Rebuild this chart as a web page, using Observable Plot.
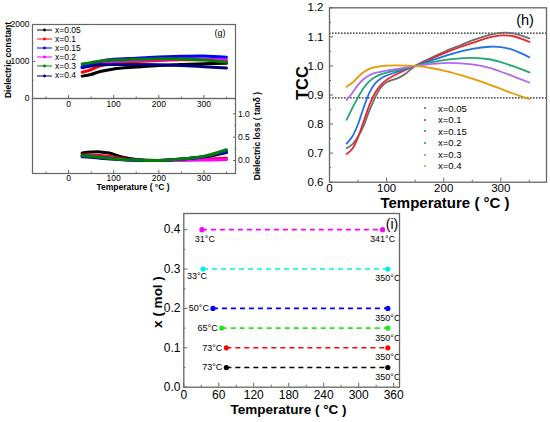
<!DOCTYPE html>
<html><head><meta charset="utf-8">
<script src="https://cdn.jsdelivr.net/npm/d3@7"></script>
<script src="https://cdn.jsdelivr.net/npm/@observablehq/plot@0.6"></script>
<style>
html,body{margin:0;padding:0;background:#fff;}
#root{position:relative;width:550px;height:422px;overflow:hidden;background:#fff;font-family:"Liberation Sans",Arial,sans-serif;}
#root svg{position:absolute;}
.lbl{position:absolute;white-space:nowrap;line-height:1;color:#000;}
.leg{position:absolute;display:flex;align-items:center;white-space:nowrap;line-height:1;color:#000;}
</style></head><body><div id="root"></div>
<script>
// ---------- DATA ----------
// Panel (g): dielectric constant and loss
const gSeries = ["x=0.05", "x=0.1", "x=0.15", "x=0.2", "x=0.3", "x=0.4"];
const gColors = ["#000000", "#ff0000", "#0000ff", "#ff00ff", "#008000", "#000080"];
const gTempEps = [30, 50, 70, 100, 150, 200, 250, 300, 350];
const gEps005 = [605, 650, 730, 800, 850, 895, 920, 940, 950];
const gEps01  = [710, 780, 880, 960, 1000, 1030, 1045, 1045, 1020];
const gEps015 = [860, 950, 1010, 1060, 1090, 1120, 1140, 1150, 1115];
const gEps02  = [830, 900, 960, 1000, 1030, 1050, 1070, 1070, 1040];
const gEps03  = [930, 970, 1010, 1040, 1060, 1075, 1070, 1040, 980];
const gEps04  = [840, 880, 910, 920, 920, 910, 890, 860, 825];
const gTempLoss = [30, 50, 70, 90, 120, 150, 200, 250, 300, 350];
const gLoss005 = [0.16, 0.18, 0.185, 0.16, 0.07, 0.02, 0.0, 0.02, 0.07, 0.17];
const gLoss01  = [0.12, 0.12, 0.11, 0.09, 0.04, 0.01, 0.0, 0.01, 0.03, 0.05];
const gLoss015 = [0.10, 0.09, 0.07, 0.05, 0.02, 0.01, 0.0, 0.03, 0.08, 0.19];
const gLoss02  = [0.11, 0.10, 0.08, 0.06, 0.02, 0.0, 0.0, 0.005, 0.01, 0.02];
const gLoss03  = [0.10, 0.09, 0.07, 0.05, 0.02, 0.01, 0.0, 0.03, 0.09, 0.23];
const gLoss04  = [0.08, 0.07, 0.05, 0.035, 0.015, 0.005, 0.0, 0.03, 0.08, 0.18];
const gEpsTicks = [0, 1000, 2000];
const gLossTicks = [0, 0.5, 1.0];
const gTempTicks = [0, 100, 200, 300];

// Panel (h): TCC
const hSeries = ["x=0.05", "x=0.1", "x=0.15", "x=0.2", "x=0.3", "x=0.4"];
const hColors = ["#6e6e6e", "#e8282d", "#2272e6", "#1fa874", "#b36ae8", "#e89a08"];
const hTemp = [30, 40, 50, 60, 70, 80, 90, 100, 120, 135, 150, 180, 200, 230, 250, 280, 300, 320, 350];
const hTcc005 = [0.717, 0.73, 0.757, 0.795, 0.847, 0.892, 0.926, 0.944, 0.958, 0.976, 1.0, 1.03, 1.048, 1.072, 1.088, 1.107, 1.114, 1.113, 1.095];
const hTcc01  = [0.697, 0.715, 0.755, 0.81, 0.866, 0.908, 0.935, 0.952, 0.974, 0.988, 1.0, 1.026, 1.043, 1.066, 1.079, 1.098, 1.105, 1.103, 1.083];
const hTcc015 = [0.733, 0.757, 0.8, 0.858, 0.908, 0.94, 0.957, 0.967, 0.981, 0.991, 1.0, 1.02, 1.033, 1.05, 1.059, 1.066, 1.065, 1.056, 1.03];
const hTcc02  = [0.815, 0.855, 0.892, 0.925, 0.948, 0.962, 0.971, 0.977, 0.986, 0.993, 1.0, 1.013, 1.02, 1.026, 1.028, 1.023, 1.013, 1.0, 0.978];
const hTcc03  = [0.883, 0.907, 0.935, 0.955, 0.968, 0.976, 0.98, 0.984, 0.99, 0.995, 1.0, 1.007, 1.01, 1.009, 1.005, 0.993, 0.98, 0.966, 0.943];
const hTcc04  = [0.928, 0.942, 0.962, 0.979, 0.99, 0.996, 0.999, 1.001, 1.002, 1.001, 1.0, 0.992, 0.984, 0.968, 0.956, 0.936, 0.921, 0.906, 0.886];
const hBounds = [1.113, 0.89];
const hTccTicks = [0.6, 0.7, 0.8, 0.9, 1.0, 1.1, 1.2];
const hTempTicks = [0, 100, 200, 300];

// Panel (i): temperature stability ranges
const iX = [0.05, 0.1, 0.15, 0.2, 0.3, 0.4];
const iStart = [73, 73, 65, 50, 33, 31];
const iEnd = [350, 350, 350, 350, 350, 341];
const iColors = ["#000000", "#ff0000", "#22e622", "#0000ff", "#00eeee", "#ff00ff"];
const iXTicks = [0.0, 0.1, 0.2, 0.3, 0.4];
const iTempTicks = [0, 60, 120, 180, 240, 300, 360];

// ---------- HELPERS ----------
const root = document.getElementById("root");
const FONT = '"Liberation Sans", Arial, sans-serif';
function place(svg, left, top) { svg.style.left = left + "px"; svg.style.top = top + "px"; root.appendChild(svg); }
function label(html, cx, cy, size, opts = {}) {
  const d = document.createElement("div");
  d.className = "lbl";
  d.innerHTML = html;
  d.style.left = cx + "px"; d.style.top = cy + "px";
  d.style.fontSize = size + "px";
  d.style.fontWeight = opts.bold ? "bold" : "normal";
  d.style.transform = "translate(-50%,-50%)" + (opts.rotate ? ` rotate(${opts.rotate}deg)` : "");
  root.appendChild(d);
}
const series = (xs, ys) => xs.map((t, i) => ({T: t, v: ys[i]}));
const baseStyle = (fs) => ({fontFamily: FONT, fontSize: fs + "px", color: "#000", background: "transparent", overflow: "visible", maxWidth: "none"});
const mids = (arr) => arr.slice(0, -1).map((a, i) => (a + arr[i + 1]) / 2);
const FRAME = "#666";

// ---------- PANEL (g) upper ----------
const gEps = [gEps005, gEps01, gEps015, gEps02, gEps03, gEps04];
const gLoss = [gLoss005, gLoss01, gLoss015, gLoss02, gLoss03, gLoss04];
const gDrawOrder = [0, 1, 3, 5, 2, 4];
const gUpper = Plot.plot({
  width: 270, height: 112,
  marginLeft: 32, marginRight: 35, marginTop: 24, marginBottom: 14,
  x: {domain: [-80, 370]},
  y: {domain: [0, 2000]},
  style: baseStyle(8.5),
  marks: [
    Plot.axisX({ticks: gTempTicks, tickFormat: d3.format("d"), tickSize: -3, tickPadding: 5, label: null, stroke: FRAME}),
    Plot.axisX({ticks: [-50, 50, 150, 250, 350], tickSize: -1.5, tickFormat: () => "", label: null, stroke: FRAME}),
    Plot.axisY({ticks: gEpsTicks, tickFormat: d3.format("d"), tickSize: -3, tickPadding: 6, label: null, stroke: FRAME}),
    Plot.axisY({ticks: [500, 1500], tickSize: -1.5, tickFormat: () => "", label: null, stroke: FRAME}),
    ...gDrawOrder.map(k => Plot.line(series(gTempEps, gEps[k]), {x: "T", y: "v", stroke: gColors[k], strokeWidth: 3, curve: "catmull-rom"})),
    Plot.frame({stroke: FRAME, strokeWidth: 1.2})
  ]
});
place(gUpper, 0, 0);

// ---------- PANEL (g) lower ----------
const gLower = Plot.plot({
  width: 270, height: 98,
  marginLeft: 32, marginRight: 35, marginTop: 0, marginBottom: 23,
  x: {domain: [-80, 370]},
  y: {domain: [-0.278, 1.328]},
  style: baseStyle(8.5),
  marks: [
    Plot.axisX({ticks: gTempTicks, tickFormat: d3.format("d"), tickSize: -3, tickPadding: 4.5, label: null, stroke: FRAME}),
    Plot.axisX({ticks: [-50, 50, 150, 250, 350], tickSize: -1.5, tickFormat: () => "", label: null, stroke: FRAME}),
    Plot.axisY({anchor: "right", ticks: gLossTicks, tickFormat: d3.format(".1f"), tickSize: -3, tickPadding: 5.5, label: null, stroke: FRAME}),
    Plot.axisY({anchor: "right", ticks: [0.25, 0.75], tickSize: -1.5, tickFormat: () => "", label: null, stroke: FRAME}),
    ...gDrawOrder.map(k => Plot.line(series(gTempLoss, gLoss[k]), {x: "T", y: "v", stroke: gColors[k], strokeWidth: 3, curve: "catmull-rom"})),
    Plot.frame({stroke: FRAME, strokeWidth: 1.2})
  ]
});
place(gLower, 0, 98);

label("Dielectric constant", 8, 60, 8.5, {bold: true, rotate: -90});
label("Dielectric loss ( tanδ )", 257, 136, 8.5, {bold: true, rotate: -90});
label("Temperature ( °C )", 133, 187, 8.5, {bold: true});
label("(g)", 220, 33, 9);

// legend (g)
gSeries.forEach((name, i) => {
  const d = document.createElement("div");
  d.className = "leg";
  d.style.left = "37px"; d.style.top = (30 + i * 9.1 - 4) + "px"; d.style.fontSize = "8.5px"; d.style.height = "8px";
  d.innerHTML = `<svg width="16" height="8" style="position:static;margin-right:2px"><line x1="0" y1="4" x2="15" y2="4" stroke="${gColors[i]}" stroke-width="1"/><circle cx="7.5" cy="4" r="1.4" fill="${gColors[i]}"/></svg><span>${name}</span>`;
  root.appendChild(d);
});

// ---------- PANEL (h) ----------
const hTcc = [hTcc005, hTcc01, hTcc015, hTcc02, hTcc03, hTcc04];
const hPlot = Plot.plot({
  width: 280, height: 212,
  marginLeft: 59, marginRight: 4, marginTop: 7.3, marginBottom: 30.3,
  x: {domain: [0, 380]},
  y: {domain: [0.6, 1.2]},
  style: baseStyle(11.5),
  marks: [
    Plot.axisX({ticks: hTempTicks, tickSize: -4, tickPadding: 6, label: null, stroke: FRAME}),
    Plot.axisX({ticks: mids(hTempTicks).concat([350]), tickSize: -2, tickFormat: () => "", label: null, stroke: FRAME}),
    Plot.axisY({ticks: hTccTicks, tickFormat: d3.format(".1f"), tickSize: -4, tickPadding: 10, label: null, stroke: FRAME}),
    Plot.axisY({ticks: mids(hTccTicks), tickSize: -2, tickFormat: () => "", label: null, stroke: FRAME}),
    Plot.ruleY(hBounds, {stroke: "#222", strokeWidth: 1.1, strokeDasharray: "1.6,1.4"}),
    ...hTcc.map((vals, k) => Plot.line(series(hTemp, vals), {x: "T", y: "v", stroke: hColors[k], strokeWidth: 1.8, curve: "catmull-rom"})),
    Plot.frame({stroke: FRAME, strokeWidth: 1.3})
  ]
});
place(hPlot, 270, 0);

label("TCC", 301.5, 83, 16.5, {bold: true, rotate: -90});
label("Temperature ( °C )", 445, 202, 15, {bold: true});
label("(h)", 525, 19.5, 14.5);

// legend (h)
hSeries.forEach((name, i) => {
  const d = document.createElement("div");
  d.className = "leg";
  d.style.left = "423px"; d.style.top = (108.3 + i * 11.55 - 5) + "px"; d.style.fontSize = "9.5px"; d.style.height = "10px";
  d.innerHTML = `<svg width="14" height="10" style="position:static;margin-right:1px"><circle cx="2" cy="5" r="1.1" fill="${hColors[i]}"/></svg><span>${name}</span>`;
  root.appendChild(d);
});

// ---------- PANEL (i) ----------
const iRows = iX.map((x, i) => ({x, t0: iStart[i], t1: iEnd[i], color: iColors[i]}));
const leftSide = iRows.filter(d => d.x <= 0.2);
const fmtT = t => t + "°C";
const iPlot = Plot.plot({
  width: 290, height: 212,
  marginLeft: 53.3, marginRight: 21, marginTop: 3, marginBottom: 35.3,
  x: {domain: [0, 370]},
  y: {domain: [0, 0.441]},
  color: {type: "identity"},
  style: baseStyle(12),
  marks: [
    Plot.axisX({ticks: iTempTicks, tickSize: -4, tickPadding: 7, label: null, stroke: FRAME}),
    Plot.axisX({ticks: mids(iTempTicks), tickSize: -2, tickFormat: () => "", label: null, stroke: FRAME}),
    Plot.axisY({ticks: iXTicks, tickFormat: d3.format(".1f"), tickSize: -4, tickPadding: 7.3, label: null, stroke: FRAME}),
    Plot.axisY({ticks: mids(iXTicks), tickSize: -2, tickFormat: () => "", label: null, stroke: FRAME}),
    Plot.link(iRows, {x1: "t0", x2: "t1", y1: "x", y2: "x", stroke: "color", strokeWidth: 1.6, strokeDasharray: "5,4"}),
    Plot.dot(iRows, {x: "t0", y: "x", fill: "color", r: 2.6}),
    Plot.dot(iRows, {x: "t1", y: "x", fill: "color", r: 2.6}),
    Plot.text(leftSide, {x: "t0", y: "x", text: d => fmtT(d.t0), textAnchor: "end", dx: -4, fontSize: 9}),
    Plot.text(iRows.filter(d => d.x === 0.3), {x: "t0", y: "x", text: d => fmtT(d.t0), dx: -6, dy: 7, fontSize: 9}),
    Plot.text(iRows.filter(d => d.x === 0.4), {x: "t0", y: "x", text: d => fmtT(d.t0), dx: 3, dy: 9, fontSize: 9}),
    Plot.text(iRows, {x: "t1", y: "x", text: d => fmtT(d.t1), dy: 9.5, fontSize: 9}),
    Plot.frame({stroke: FRAME, strokeWidth: 1.3})
  ]
});
place(iPlot, 130, 210);

label("x ( mol )", 158, 302, 13.5, {bold: true, rotate: -90});
label("Temperature ( °C )", 288.5, 410, 13.5, {bold: true});
label("(i)", 392, 224, 14);
</script></body></html>
